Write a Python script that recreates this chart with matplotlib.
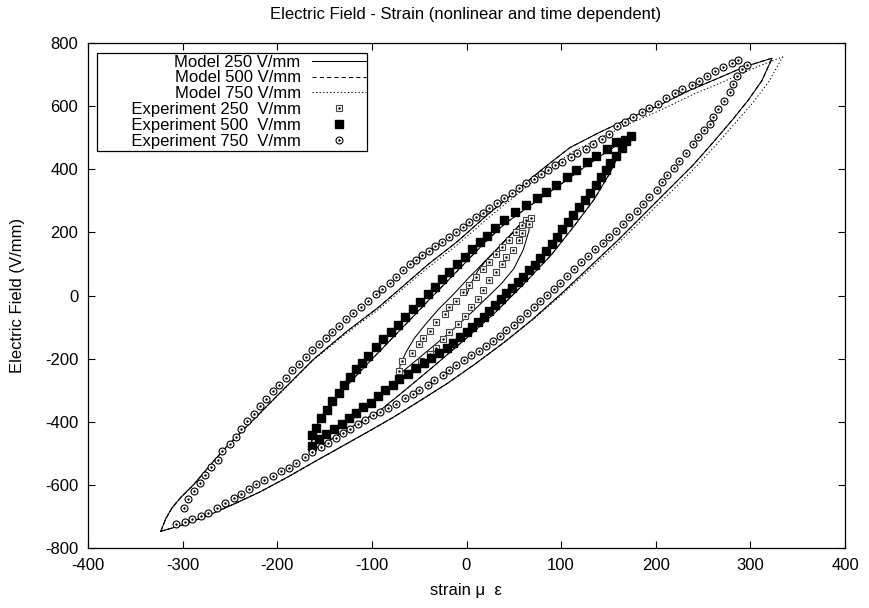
import numpy as np
import matplotlib
matplotlib.use('Agg')
import matplotlib.pyplot as plt
from matplotlib.legend_handler import HandlerTuple

# --- experiment 750 V/mm (circles): lower branch then upper branch
exp750_x = [-307, -298, -290, -281, -273, -264, -255, -246, -238, -230, -222, -214, -205, -196,
            -188, -180, -171, -163, -154, -146, -138, -130, -123, -115, -107, -99, -91, -83,
            -74, -65, -57, -50, -41, -34, -25, -18, -11, -3, 5, 13, 21, 28, 35, 42, 50, 57,
            64, 71, 78, 85, 92, 99, 106, 114, 121, 128, 136, 144, 151, 158, 165, 172, 180,
            186, 193, 201, 207, 212, 219, 225, 232, 239, 245, 251, 257, 261, 266, 272, 278,
            282, 286, 291, 296,
            287, 281, 271, 263, 254, 246, 238, 228, 220, 211, 202, 193, 185, 176, 168, 159,
            151, 143, 134, 126, 117, 110, 101, 94, 86, 79, 71, 63, 56, 48, 40, 32, 24, 17,
            10, 3, -4, -11, -19, -26, -33, -40, -47, -53, -60, -67, -74, -81, -89, -96, -104,
            -112, -120, -127, -135, -142, -149, -156, -163, -170, -177, -184, -191, -198,
            -205, -212, -218, -225, -232, -238, -244, -250, -258, -263, -270, -276, -282,
            -288, -294, -299]
exp750_y = [-724, -717, -708, -698, -688, -674, -656, -642, -629, -614, -598, -584, -572, -556,
            -545, -532, -513, -496, -479, -466, -451, -437, -422, -408, -395, -380, -369, -357,
            -343, -326, -313, -299, -282, -268, -252, -236, -220, -205, -190, -175, -160, -144,
            -128, -110, -92, -74, -56, -37, -18, 1, 20, 40, 61, 84, 105, 124, 146, 166, 185,
            204, 226, 248, 268, 290, 313, 335, 360, 383, 405, 426, 453, 479, 502, 524, 544,
            565, 590, 616, 644, 670, 695, 718, 730,
            746, 737, 724, 710, 695, 680, 667, 654, 641, 625, 608, 593, 580, 565, 551, 536,
            512, 495, 479, 465, 450, 438, 424, 413, 399, 385, 370, 355, 340, 325, 309, 293,
            277, 262, 248, 232, 217, 202, 186, 171, 156, 141, 127, 114, 100, 80, 59, 41, 22,
            5, -16, -35, -54, -75, -96, -116, -135, -153, -174, -195, -216, -237, -261, -282,
            -303, -329, -351, -375, -398, -422, -448, -472, -493, -521, -543, -569, -593, -619,
            -645, -672]

# --- experiment 500 V/mm (filled squares)
exp500_x = [-163, -156, -148, -140, -132, -124, -117, -109, -101, -94, -86, -78, -71, -62, -53,
            -45, -37, -29, -21, -14, -7, 0, 6, 12, 18, 24, 30, 36, 42, 48, 54, 60, 66, 72, 78,
            84, 90, 96, 101, 107, 113, 119, 125, 131, 137, 142, 147, 152, 158, 164, 169, 174,
            167, 158, 148, 137, 127, 116, 106, 95, 84, 74, 63, 51, 40, 30, 22, 14, 6, -2, -10,
            -18, -26, -33, -41, -49, -57, -65, -72, -80, -88, -96, -104, -110, -117, -123,
            -129, -135, -142, -147, -154, -159, -163]
exp500_y = [-477, -456, -440, -424, -406, -389, -372, -354, -340, -319, -300, -283, -266, -248,
            -230, -214, -198, -183, -165, -149, -133, -116, -100, -85, -67, -49, -31, -12, 8,
            25, 43, 60, 80, 98, 118, 140, 162, 186, 210, 234, 256, 280, 302, 326, 350, 374, 398,
            420, 442, 466, 488, 504,
            494, 485, 463, 443, 424, 399, 376, 351, 329, 309, 287, 265, 239, 214, 190, 168, 146,
            122, 99, 75, 51, 27, 4, -20, -44, -68, -92, -115, -139, -163, -191, -214, -233,
            -258, -282, -308, -333, -363, -387, -419, -442]

# --- experiment 250 V/mm (open squares)
exp250_x = [-71, -68, -58, -50, -46, -39, -32, -23, -18, -11, -4, 3, 10, 17, 24, 31, 38, 45, 52,
            59, 63, 68, 66, 59, 56, 49, 42, 37, 31, 24, 17, 12, 5, -2, -9, -18, -25, -32, -39,
            -48, -55, -62]
exp250_y = [-239, -207, -181, -154, -134, -112, -85, -58, -37, -16, 11, 32, 58, 85, 106, 133,
            154, 175, 202, 223, 240, 245, 225, 197, 175, 144, 122, 101, 74, 48, 16, -11, -37,
            -64, -90, -117, -138, -165, -186, -207, -229, -245]

# --- model loops
big_x = [-323, -302, -274, -246, -218, -190, -162, -134, -106, -78, -50, -20, 10, 40, 70, 100,
         130, 160, 190, 215, 240, 262, 282, 298, 312, 323,
         295, 264, 235, 204, 176, 140, 109, 80, 50, 20, -10, -40, -60, -92, -127, -162, -197,
         -225, -253, -267, -288, -302, -311, -318, -323]
big_y = [-747, -729, -698, -661, -622, -577, -529, -482, -435, -387, -335, -278, -215, -148,
         -75, 5, 90, 175, 265, 340, 415, 490, 560, 620, 680, 752,
         726, 686, 649, 603, 567, 516, 468, 400, 325, 250, 170, 100, 48, -35, -115, -203, -308,
         -393, -477, -524, -598, -640, -672, -708, -747]

big750_x = [-323, -302, -274, -246, -218, -190, -162, -134, -106, -78, -50, -20, 10, 40, 70,
            100, 130, 160, 190, 215, 240, 264, 285, 303, 320, 334,
            305, 272, 240, 207, 178, 142, 110, 80, 50, 20, -10, -40, -60, -92, -127, -162, -197,
            -225, -253, -267, -288, -302, -311, -318, -323]
big750_y = [-747, -729, -698, -661, -622, -577, -529, -482, -435, -387, -335, -278, -215, -148,
            -77, 0, 82, 165, 252, 325, 400, 478, 550, 612, 680, 756,
            722, 678, 638, 590, 552, 500, 452, 385, 312, 238, 160, 90, 40, -42, -120, -205, -310,
            -393, -477, -524, -598, -640, -672, -708, -747]

mid_x = [-165, -140, -115, -92, -65, -35, 0, 30, 60, 90, 115, 135, 150, 160, 168, 172,
         160, 148, 127, 106, 84, 63, 40, 20, 0, -20, -40, -60, -80, -100, -120, -140, -152,
         -160, -163, -165]
mid_y = [-495, -450, -405, -366, -300, -225, -135, -55, 35, 130, 225, 305, 380, 440, 490, 500,
         478, 455, 412, 366, 320, 276, 226, 170, 108, 46, -15, -78, -140, -202, -265, -332,
         -380, -420, -450, -495]

small_x = [0, 5, 12, 21, 30, 45, 55, 62, 67, 66, 60, 50, 37, 24, 5, -15, -35, -55, -72,
           -70, -64, -55, -43, -30, -15, 3, 24, 45, 59, 67]
small_y = [0, 40, 78, 113, 140, 188, 220, 238, 248, 205, 145, 85, 38, 0, -55, -110, -160, -210,
           -252, -220, -180, -135, -90, -45, 0, 58, 122, 186, 232, 248]

xticks = [-400, -300, -200, -100, 0, 100, 200, 300, 400]
yticks = [-800, -600, -400, -200, 0, 200, 400, 600, 800]

plt.rcParams['font.family'] = ['Liberation Sans', 'DejaVu Sans']
plt.rcParams['font.size'] = 12
plt.rcParams['axes.unicode_minus'] = False

fig = plt.figure(figsize=(8.69, 6.08), dpi=100)
ax = fig.add_axes([88 / 869, 1 - 548 / 608, (845 - 88) / 869, (548 - 43) / 608])

gap = [np.nan]
solid_x = small_x + gap + mid_x + gap + big_x
solid_y = small_y + gap + mid_y + gap + big_y
dash_x = mid_x + gap + big_x
dash_y = mid_y + gap + big_y

l1, = ax.plot(solid_x, solid_y, color='black', lw=0.75)
l2, = ax.plot(dash_x, dash_y, color='black', lw=0.75, dashes=(4, 3))
l3, = ax.plot(big750_x, big750_y, color='black', lw=0.75, dashes=(1.2, 2.2))

s1, = ax.plot(exp250_x, exp250_y, ls='none', marker='s', ms=5, mfc='white', mec='#444444', mew=0.8)
d1, = ax.plot(exp250_x, exp250_y, ls='none', marker='.', ms=1.5, color='black')
s2, = ax.plot(exp500_x, exp500_y, ls='none', marker='s', ms=5.5, color='black')
c3, = ax.plot(exp750_x, exp750_y, ls='none', marker='o', ms=5, mfc='white', mec='black', mew=0.8)
d3, = ax.plot(exp750_x, exp750_y, ls='none', marker='.', ms=1.5, color='black')

ax.set_xlim(-400, 400)
ax.set_ylim(-800, 800)
ax.set_xticks(xticks)
ax.set_yticks(yticks)
ax.tick_params(direction='in', length=5, width=0.8, top=True, right=True, pad=7)
for s in ax.spines.values():
    s.set_linewidth(0.9)

fig.text(466 / 869, 1 - 15 / 608, 'Electric Field - Strain (nonlinear and time dependent)',
         ha='center', va='center')
fig.text(466 / 869, 1 - 590 / 608, 'strain \u03bc  \u03b5', ha='center', va='center')
fig.text(18 / 869, 1 - 295 / 608, 'Electric Field (V/mm)', ha='center', va='center', rotation=90)

labels = ['Model 250 V/mm', 'Model 500 V/mm', 'Model 750 V/mm',
          '       Experiment 250  V/mm', '       Experiment 500  V/mm',
          '       Experiment 750  V/mm']
leg = ax.legend([l1, l2, l3, (s1, d1), s2, (c3, d3)], labels,
                handler_map={tuple: HandlerTuple(ndivide=1)},
                loc='upper left', bbox_to_anchor=(9 / 757, 1 - 10 / 505), borderaxespad=0,
                markerfirst=False, numpoints=1, handlelength=3.2, handletextpad=0.7,
                labelspacing=0.05, borderpad=0.1, fancybox=False, edgecolor='black',
                framealpha=1)
leg.get_frame().set_linewidth(0.9)

fig.savefig('out.png', dpi=100)
